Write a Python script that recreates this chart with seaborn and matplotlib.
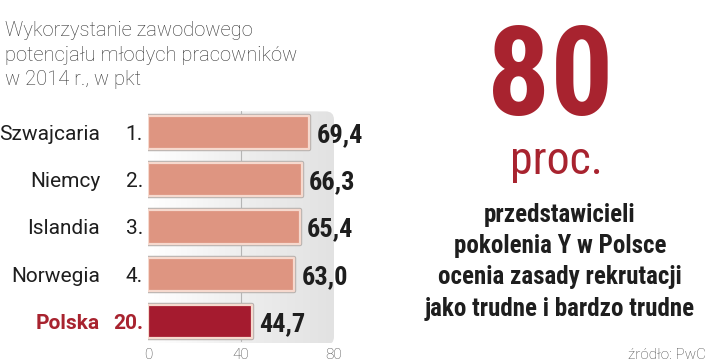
import numpy as np
import pandas as pd
import matplotlib
matplotlib.use('Agg')
import matplotlib.pyplot as plt
import matplotlib.patheffects as pe
from matplotlib import font_manager as fm
from matplotlib.colors import LinearSegmentedColormap
from matplotlib.patches import FancyBboxPatch
import seaborn as sns

# dane z wykresu
kraje = ['Szwajcaria', 'Niemcy', 'Islandia', 'Norwegia', 'Polska']
miejsca = ['1.', '2.', '3.', '4.', '20.']
wartosci = [69.4, 66.3, 65.4, 63.0, 44.7]
ticki = [0, 40, 80]

tytul = 'Wykorzystanie zawodowego\npotencjału młodych pracowników\nw 2014 r., w pkt'
duza_liczba = '80'
jednostka = 'proc.'
opis = 'przedstawicieli\npokolenia Y w Polsce\nocenia zasady rekrutacji\njako trudne i bardzo trudne'
zrodlo = 'źródło: PwC'

SALMON = '#DE9581'
RED = '#A51B2F'
RED_TXT = '#A8232F'
DARK = '#1E1E1E'


def pick(*names):
    for n in names:
        try:
            fm.findfont(fm.FontProperties(family=n), fallback_to_default=False)
            return n
        except ValueError:
            pass
    return 'DejaVu Sans'


sns.set_style('white')
NARROW = pick('Liberation Sans Narrow', 'Roboto Condensed', 'Roboto', 'DejaVu Sans')
SANS = pick('Roboto', 'Open Sans', 'DejaVu Sans')
plt.rcParams['font.family'] = [SANS, 'DejaVu Sans']

W, H = 720, 364
fig = plt.figure(figsize=(7.2, 3.64), dpi=100)


def fx(px):
    return px / W


def fy(py):
    return 1 - py / H


ax = fig.add_axes([fx(148), fy(345), fx(334) - fx(148), (345 - 109) / H])

df = pd.DataFrame({'kraj': kraje, 'wartosc': wartosci})
kolory = [SALMON] * 4 + [RED]
sns.barplot(data=df, x='wartosc', y='kraj', hue='kraj', palette=kolory,
            orient='h', width=0.7, legend=False, ax=ax, saturation=1,
            edgecolor='#F6D9CE', linewidth=1.6, zorder=3)

for p in ax.patches:
    p.set_joinstyle('round')
    p.set_path_effects([pe.Stroke(linewidth=3.2, foreground='#B9B3B0'), pe.Normal()])

ax.set_xlim(0, 80)
ax.set_ylim(4.5, -0.5)

# tło z gradientem i zaokrąglonymi rogami
ax.patch.set_visible(False)
cmap = LinearSegmentedColormap.from_list('bg', ['#FFFFFF', '#EEEEEE', '#E2E2E2'])
grad = np.linspace(0, 1, 256).reshape(1, -1)
im = ax.imshow(grad, cmap=cmap, extent=(0, 80, 4.45, -0.55), aspect='auto', zorder=0)
clip = FancyBboxPatch((0, 0), 1, 0.99, boxstyle='round,pad=0,rounding_size=0.045',
                      mutation_aspect=186 / 235, transform=ax.transAxes,
                      facecolor='none', edgecolor='none')
ax.add_patch(clip)
im.set_clip_path(clip)
ax.axvline(40, color='#B5B5B5', lw=0.8, zorder=1, ymin=0.015, ymax=0.99)

for s in ax.spines.values():
    s.set_visible(False)
ax.set_xticks(ticki)
ax.set_xticklabels([str(t) for t in ticki], fontsize=11, color='#444444', fontweight='light')
ax.tick_params(axis='x', length=0, pad=2)
ax.set_yticks([])
ax.set_xlabel('')
ax.set_ylabel('')

# etykiety
for i, (k, m, v) in enumerate(zip(kraje, miejsca, wartosci)):
    polska = k == 'Polska'
    col = RED_TXT if polska else DARK
    w = 'bold' if polska else 'normal'
    ax.annotate(k, xy=(0, i), xycoords=('axes fraction', 'data'), xytext=(-48, 0),
                textcoords='offset pixels', ha='right', va='center_baseline',
                fontsize=15, color=col, fontweight=w)
    ax.annotate(m, xy=(0, i), xycoords=('axes fraction', 'data'), xytext=(-5, 0),
                textcoords='offset pixels', ha='right', va='center_baseline',
                fontsize=15, color=col, fontweight=w)
    ax.annotate(f'{v:.1f}'.replace('.', ','), xy=(v, i), xytext=(7, 0),
                textcoords='offset pixels', ha='left', va='center_baseline',
                fontsize=19, fontweight='bold', color=DARK, family=NARROW,
                annotation_clip=False)

fig.text(fx(5), fy(21), tytul, ha='left', va='top', fontsize=14.5,
         color='#333333', fontweight='light', linespacing=1.38)

fig.text(fx(550), fy(115), duza_liczba, ha='center', va='baseline', fontsize=90,
         color=RED_TXT, family=NARROW, fontweight='bold')
fig.text(fx(556), fy(174), jednostka, ha='center', va='baseline', fontsize=33,
         color=RED_TXT, family=NARROW)
fig.text(fx(560), fy(203), opis, ha='center', va='top', fontsize=18,
         color=DARK, fontweight='bold', family=NARROW, linespacing=1.38)
fig.text(fx(706), fy(359), zrodlo, ha='right', va='baseline', fontsize=11,
         color='#444444', fontweight='light')

fig.savefig('out.png', dpi=100)
